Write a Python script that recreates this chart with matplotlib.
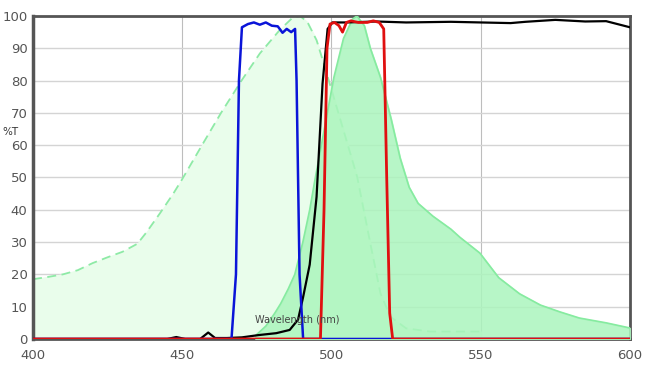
import matplotlib.pyplot as plt
import numpy as np

# excitation spectrum (dashed, pale fill)
ex_wl = [400, 405, 410, 415, 420, 425, 430, 435, 438, 442.6, 447, 450, 457, 463, 470, 476, 482.7, 487,
         489.5, 492, 495, 497.4, 503, 508.6, 513, 516.4, 519.7, 525, 533, 550]
ex_t = [18.5, 19.2, 20.0, 21.3, 23.5, 25.3, 27.0, 29.5, 33.0, 39.0, 45.0, 49.5, 60.6, 70.0, 80.2, 88.4,
        95.7, 99.5, 100.0, 98.0, 92.5, 85.3, 67.8, 50.2, 29.6, 14.1, 6.9, 3.3, 2.3, 2.3]

# emission spectrum (solid fill)
em_wl = [474.5, 478, 481, 483, 485.5, 487.7, 490.4, 492.7, 494.4, 497, 500.8, 504, 507, 508.5, 511,
         513, 516.4, 520, 523, 526, 529, 534, 540, 543, 549.7, 556, 563, 570, 576.5, 583, 592, 600]
em_t = [1.0, 4.0, 8.0, 11.0, 15.5, 20.0, 30.0, 40.0, 49.0, 62.0, 81.0, 93.0, 99.0, 100.0, 97.0,
        90.0, 81.0, 68.0, 56.0, 47.0, 42.0, 38.0, 34.0, 31.5, 26.6, 19.0, 14.0, 10.5, 8.4, 6.5, 5.0, 3.4]

# excitation filter (blue)
bl_wl = [400, 466.5, 468, 469, 470, 472, 474, 476, 478, 480, 482, 483.6, 485, 486.5, 487.8, 488.3, 489.3, 490.5, 600]
bl_t = [0, 0, 20, 80, 96.5, 97.5, 98.0, 97.3, 98.0, 97.0, 96.8, 94.8, 96.0, 95.0, 96.0, 80.0, 20.0, 0, 0]

# emission filter (red)
rd_wl = [400, 496.3, 497.5, 498.5, 499.5, 501, 502.5, 503.7, 505, 506.5, 509, 512, 514, 516, 517.5, 518.5, 519.5, 520.5, 600]
rd_t = [0, 0, 40, 90, 97.5, 98.0, 97.0, 95.0, 98.0, 98.5, 98.0, 98.0, 98.5, 98.0, 96.0, 50.0, 8.0, 0, 0]

# dichroic (black)
bk_wl = [400, 445, 448, 451, 456, 458.7, 461, 465, 470, 475.5, 481.5, 486, 488.8, 490.5, 492.7, 495, 497,
         498.7, 500.3, 505, 515, 525, 540, 550, 560, 565, 575, 585, 592, 600]
bk_t = [0, 0, 0.6, 0, 0, 2.0, 0.3, 0.3, 0.5, 1.2, 1.8, 2.8, 6.0, 13.0, 23.0, 44.0, 79.0,
        96.0, 98.0, 98.0, 98.3, 98.0, 98.2, 98.0, 97.8, 98.2, 98.8, 98.3, 98.4, 96.5]

fig = plt.figure(figsize=(6.57, 3.71), dpi=100)
ax = fig.add_axes([0.0502, 0.0863, 0.9087, 0.8706])

ax.fill_between(ex_wl, ex_t, color='#e9fdeb', zorder=1)
ax.plot(ex_wl, ex_t, color='#8eeaa6', lw=1.3, ls=(0, (5, 3)), zorder=2)
ax.fill_between(em_wl, em_t, color='#abf5bd', alpha=0.85, zorder=3)
ax.plot(em_wl, em_t, color='#86eba0', lw=1.2, zorder=3)

ax.plot(bk_wl, bk_t, color='black', lw=1.6, zorder=5)
ax.plot(bl_wl, bl_t, color='#0a14d8', lw=1.8, zorder=6)
ax.plot(rd_wl, rd_t, color='#e01010', lw=2.0, zorder=7)

ax.set_xlim(400, 600)
ax.set_ylim(0, 100)
ax.set_xticks([400, 450, 500, 550, 600])
ax.set_yticks(range(0, 101, 10))
ax.grid(axis='y', color='#d4d4d4', lw=1)
ax.grid(axis='x', color='#bdbdbd', lw=0.8)
ax.set_axisbelow(True)
ax.tick_params(length=0, labelsize=9.5, labelcolor='#555555')
ax.tick_params(axis='x', pad=7)
ax.tick_params(axis='y', pad=4)

for s in ax.spines.values():
    s.set_color('#555555')
    s.set_linewidth(2)
ax.spines['left'].set_linewidth(2.5)

fig.text(0.003, 0.635, '%T', fontsize=7.5, color='#333333')
ax.text(474.5, 4.8, 'Wavelength (nm)', fontsize=7, color='#444444', zorder=8)

fig.savefig('out.png', dpi=100)
